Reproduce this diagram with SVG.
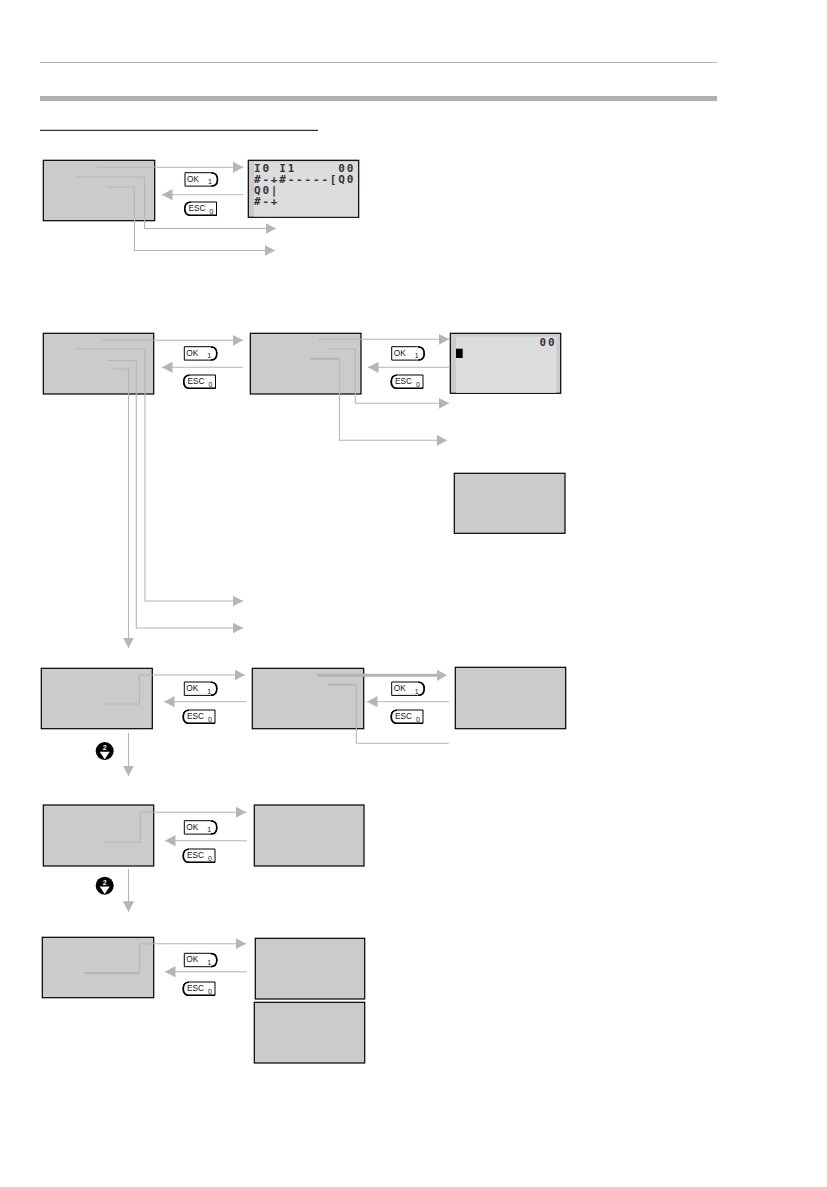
<svg xmlns="http://www.w3.org/2000/svg" width="827" height="1187" viewBox="0 0 827 1187">
<style>
.box{fill:#cbcbcb;stroke:#000;stroke-width:1.2}
.c{fill:none;stroke:#b5b5b5;stroke-width:1.1}
.t{stroke-width:2}
.th{stroke-width:3}
.btn{fill:#fff;stroke:#000;stroke-width:1}
.sh{fill:none;stroke:#000;stroke-width:1.6}
.bt{font-family:"Liberation Sans",Arial,sans-serif;font-size:8.3px;fill:#111;opacity:.99}
.bs{font-family:"Liberation Sans",Arial,sans-serif;font-size:7px;fill:#111;opacity:.99}
.lcd{font-family:"DejaVu Sans Mono",monospace;font-size:11px;font-weight:bold;fill:#333;letter-spacing:1.8px;opacity:.99}
.n{font-family:"Liberation Sans",Arial,sans-serif;font-size:7px;font-weight:bold;fill:#fff;text-anchor:middle;opacity:.99}
</style>
<defs>
<marker id="a" markerUnits="userSpaceOnUse" markerWidth="11" markerHeight="12" refX="10.5" refY="6" orient="auto"><path d="M0 .4L10.5 6L0 11.6Z" fill="#b5b5b5"/></marker>
<g id="ok"><path class="btn" d="M0 0H26Q32.5 0 32.5 6.7Q32.5 13.4 26 13.4H0Z"/><path class="sh" d="M26.5 .3Q32.5 .3 32.5 6.7Q32.5 13.3 26.5 13.3"/><text class="bt" x="2" y="9">OK</text><text class="bs" x="23" y="11.5">1</text></g>
<g id="esc"><path class="btn" d="M32 0H6.5Q0 0 0 6.7Q0 13.4 6.5 13.4H32Z"/><path class="sh" d="M6 .3Q.3 .3 .3 6.7Q.3 13.3 6 13.3H32"/><text class="bt" x="4" y="9">ESC</text><text class="bs" x="25" y="12">0</text></g>
<g id="down"><circle cx="0" cy="0" r="9" fill="#000"/><path d="M-5 .8H5L0 8.2Z" fill="#fff"/><text class="n" x="0" y="-.8">2</text></g>
</defs>
<rect width="827" height="1187" fill="#fff"/>
<g id="header">
<line x1="40" y1="62.5" x2="717" y2="62.5" stroke="#b5b5b5" stroke-width="1"/>
<rect x="40" y="96" width="677" height="5" fill="#b0b0b0"/>
<line x1="40" y1="130.3" x2="318" y2="130.3" stroke="#000" stroke-width="1"/>
</g>
<g id="n1"><rect class="box" x="43.3" y="160.3" width="111.4" height="60.4"/></g>
<g id="n2"><rect class="box" x="248.3" y="160.3" width="110.4" height="57"/><rect x="254" y="162" width="103.8" height="54.5" fill="#dcdcdc"/>
<text class="lcd" x="254" y="171.7" xml:space="preserve">I0 I1     00</text>
<text class="lcd" x="254" y="182.7" xml:space="preserve">#-+#-----[Q0</text>
<text class="lcd" x="254" y="193.7" xml:space="preserve">Q0|</text>
<text class="lcd" x="254" y="204.7" xml:space="preserve">#-+</text></g>
<g id="n3"><rect class="box" x="43.3" y="333.3" width="110.4" height="60.7"/></g>
<g id="n4"><rect class="box" x="250.3" y="333.3" width="110.7" height="60.7"/></g>
<g id="n5"><rect class="box" x="450.3" y="333.3" width="110.4" height="60"/><rect x="456" y="336.5" width="100.5" height="56.3" fill="#dcdcdc"/>
<text class="lcd" x="539.5" y="346" xml:space="preserve">00</text><rect x="456" y="348.7" width="6.7" height="9.3" fill="#000"/></g>
<g id="n6"><rect class="box" x="454.3" y="473.3" width="110.7" height="60"/></g>
<g id="n7"><rect class="box" x="41.3" y="668.3" width="111" height="60.4"/></g>
<g id="n8"><rect class="box" x="252.3" y="668.3" width="111.4" height="60.4"/></g>
<g id="n9"><rect class="box" x="455.3" y="667.3" width="110.4" height="61.4"/></g>
<g id="n10"><rect class="box" x="43.3" y="805" width="110.4" height="61"/></g>
<g id="n11"><rect class="box" x="254.3" y="805" width="109.7" height="61"/></g>
<g id="n12"><rect class="box" x="42.3" y="937.3" width="111.4" height="60.4"/></g>
<g id="n13"><rect class="box" x="255.3" y="938.3" width="109.4" height="60.7"/></g>
<g id="n14"><rect class="box" x="254.3" y="1002.3" width="110.4" height="60.7"/></g>
<g id="connectors">
<path class="c" marker-end="url(#a)" d="M97 167.3H243.3"/>
<path class="c" marker-end="url(#a)" d="M243.5 194.7H162"/>
<path class="c" marker-end="url(#a)" d="M76 177H144.5V228.5H276"/>
<path class="c" marker-end="url(#a)" d="M107 187H134.5V250.5H275"/>
<path class="c" marker-end="url(#a)" d="M101.7 340.3H243"/>
<path class="c" marker-end="url(#a)" d="M243 367.3H162"/>
<path class="c" marker-end="url(#a)" d="M76 349H145V601H243"/>
<path class="c" marker-end="url(#a)" d="M107 360.5H136.3V628H243"/>
<path class="c" marker-end="url(#a)" d="M112 369H128.5V648"/>
<path class="c" marker-end="url(#a)" d="M318 339.3H449"/>
<path class="c" marker-end="url(#a)" d="M449 367.3H368"/>
<path class="c" marker-end="url(#a)" d="M328 349H355.3V403.3H449"/>
<path class="c" marker-end="url(#a)" d="M310 358.7H339.5V440.3H447"/>
<path class="c t" d="M310 358.7H339"/>
<path class="c" marker-end="url(#a)" d="M104 704H139.5V675H245"/>
<path class="c" marker-end="url(#a)" d="M246 701.7H164"/>
<path class="c" marker-end="url(#a)" d="M128.5 733V776"/>
<path class="c th" d="M317 675.3H440"/><path d="M437 669.7L447 675.3L437 681Z" fill="#b5b5b5"/>
<path class="c t" d="M328 684.7H356.3"/>
<path class="c" d="M356.3 684.7V743.3H449"/>
<path class="c" marker-end="url(#a)" d="M449 701.7H367"/>
<path class="c" marker-end="url(#a)" d="M104 842.3H140.3V812.3H246.3"/>
<path class="c" marker-end="url(#a)" d="M247 840.7H165"/>
<path class="c" marker-end="url(#a)" d="M128.5 869V911.7"/>
<path class="c t" d="M84 973H139.7"/>
<path class="c" marker-end="url(#a)" d="M139.7 973V943.7H246"/>
<path class="c" marker-end="url(#a)" d="M247 971.7H165"/>
</g>
<g id="buttons">
<use href="#ok" x="185" y="172.7"/><use href="#esc" x="184.5" y="202"/>
<use href="#ok" x="184.3" y="346.7"/><use href="#esc" x="183.5" y="375"/>
<use href="#ok" x="391.7" y="346.7"/><use href="#esc" x="391" y="375"/>
<use href="#ok" x="184.3" y="682"/><use href="#esc" x="183" y="710"/>
<use href="#ok" x="391.7" y="682"/><use href="#esc" x="391" y="710"/>
<use href="#ok" x="184.3" y="820.7"/><use href="#esc" x="183" y="849"/>
<use href="#ok" x="184.3" y="953.3"/><use href="#esc" x="183" y="982"/>
</g>
<g id="keys"><use href="#down" x="104.7" y="751"/><use href="#down" x="104.7" y="885.7"/></g>
</svg>
